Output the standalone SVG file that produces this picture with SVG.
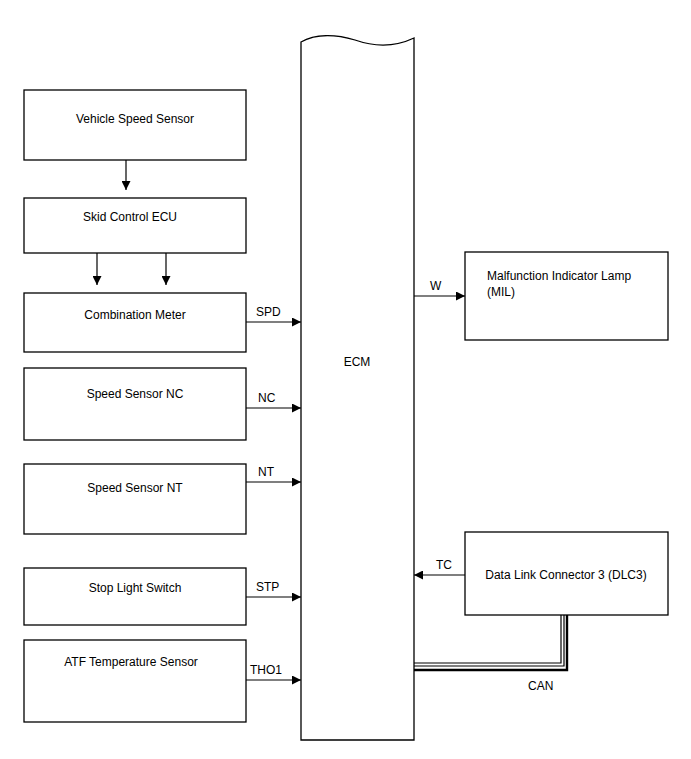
<svg xmlns="http://www.w3.org/2000/svg" width="691" height="759" viewBox="0 0 691 759">
<style>
.b{fill:#fff;stroke:#000;stroke-width:1.3}
.t{font-family:"Liberation Sans",Arial,sans-serif;font-size:12px;fill:#000}
.l{stroke:#000;stroke-width:1.2;fill:none}
</style>
<defs><marker id="a" viewBox="0 0 10 10" refX="10" refY="5" markerWidth="9" markerHeight="9" markerUnits="userSpaceOnUse" orient="auto"><path d="M0,0L10,5L0,10z"/></marker></defs>
<rect width="691" height="759" fill="#fff"/>
<g id="ecm"><path class="b" d="M301,740V42C315,34 335,34 355,40C375,47 395,47 414,38V740Z"/><text class="t" x="357" y="366" text-anchor="middle">ECM</text></g>
<g id="vss"><rect class="b" x="24" y="90" width="222" height="70"/><text class="t" x="135" y="123" text-anchor="middle">Vehicle Speed Sensor</text></g>
<g id="skid"><rect class="b" x="24" y="198" width="222" height="55"/><text class="t" x="130" y="221" text-anchor="middle">Skid Control ECU</text></g>
<g id="comb"><rect class="b" x="24" y="293" width="222" height="59"/><text class="t" x="135" y="319" text-anchor="middle">Combination Meter</text></g>
<g id="nc"><rect class="b" x="24" y="368" width="222" height="72"/><text class="t" x="135" y="398" text-anchor="middle">Speed Sensor NC</text></g>
<g id="nt"><rect class="b" x="24" y="464" width="222" height="70"/><text class="t" x="135" y="492" text-anchor="middle">Speed Sensor NT</text></g>
<g id="stp"><rect class="b" x="24" y="568" width="222" height="57"/><text class="t" x="135" y="592" text-anchor="middle">Stop Light Switch</text></g>
<g id="atf"><rect class="b" x="24" y="640" width="222" height="82"/><text class="t" x="131" y="666" text-anchor="middle">ATF Temperature Sensor</text></g>
<g id="mil"><rect class="b" x="465" y="252" width="203" height="88"/><text class="t" x="487" y="280">Malfunction Indicator Lamp</text><text class="t" x="487" y="296">(MIL)</text></g>
<g id="dlc"><rect class="b" x="465" y="532" width="203" height="83"/><text class="t" x="566" y="579" text-anchor="middle">Data Link Connector 3 (DLC3)</text></g>
<g id="conn">
<path class="l" d="M126,160V190" marker-end="url(#a)"/>
<path class="l" d="M97,253V285" marker-end="url(#a)"/>
<path class="l" d="M166,253V285" marker-end="url(#a)"/>
<path class="l" d="M246,322H301" marker-end="url(#a)"/><text class="t" x="256" y="316">SPD</text>
<path class="l" d="M246,408H301" marker-end="url(#a)"/><text class="t" x="258" y="402">NC</text>
<path class="l" d="M246,482H301" marker-end="url(#a)"/><text class="t" x="258" y="476">NT</text>
<path class="l" d="M246,597H301" marker-end="url(#a)"/><text class="t" x="256" y="591">STP</text>
<path class="l" d="M246,680H301" marker-end="url(#a)"/><text class="t" x="250" y="674">THO1</text>
<path class="l" d="M414,296H465" marker-end="url(#a)"/><text class="t" x="430" y="290">W</text>
<path class="l" d="M465,575H414" marker-end="url(#a)"/><text class="t" x="436" y="569">TC</text>
<path class="l" d="M561,615V663H414"/>
<path class="l" d="M564,615V666H414"/>
<path d="M567,615V670H414" stroke="#000" stroke-width="2.4" fill="none"/>
<text class="t" x="528" y="690">CAN</text>
</g>
</svg>
